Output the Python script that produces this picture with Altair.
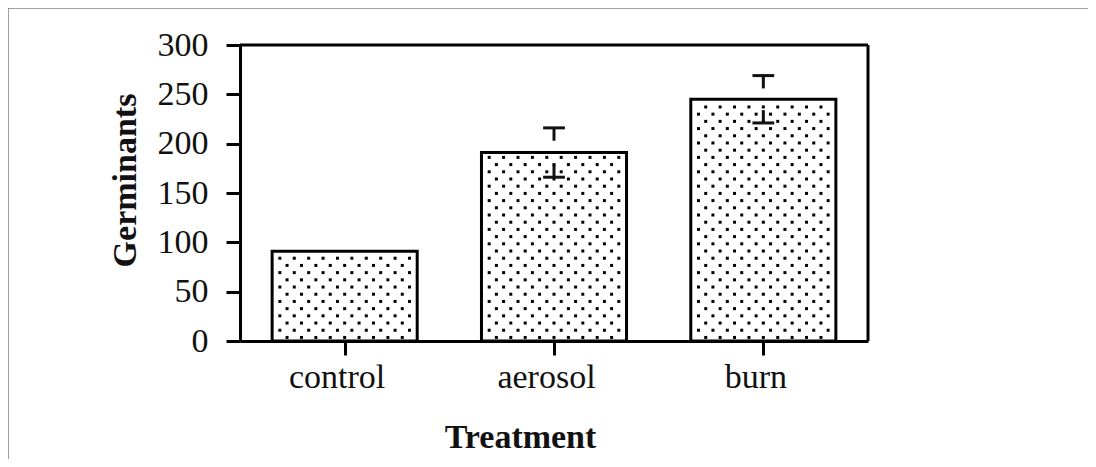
import altair as alt
import pandas as pd

treatments = ["control", "aerosol", "burn"]
germinants = [91, 191, 245]
std_err = [0, 25, 24]

FONT = "Liberation Serif"
FS = 34

df = pd.DataFrame({
    "treatment": treatments,
    "idx": list(range(len(treatments))),
    "value": germinants,
    "se": std_err,
})

W, H = 628, 296
HALF = 0.3465       # half bar width in x units
STUB = 13           # error-bar stem length in y units
CAP = 0.052         # half cap width in x units

xscale = alt.Scale(domain=[-0.5, 2.5], nice=False, zero=False)
yscale = alt.Scale(domain=[0, 300], nice=False)

label_expr = "[" + ",".join("'" + t + "'" for t in treatments) + "][datum.value]"

x_axis = alt.Axis(
    values=list(range(len(treatments))), labelExpr=label_expr, title="Treatment",
    grid=False, domainColor="black", domainWidth=3, tickColor="black", tickWidth=3,
    tickSize=14, labelFont=FONT, labelFontSize=FS, labelColor="#111", labelPadding=5,
    labelOffset=-8, titleFont=FONT, titleFontSize=FS, titleFontWeight="bold", titleColor="#111",
    titleX=280, titleY=106, titleBaseline="alphabetic", titleAlign="center",
)
y_axis = alt.Axis(
    values=[0, 50, 100, 150, 200, 250, 300], title="Germinants", grid=False,
    domainColor="black", domainWidth=3, tickColor="black", tickWidth=3, tickSize=14,
    labelFont=FONT, labelFontSize=FS, labelColor="#111", labelPadding=18,
    titleFont=FONT, titleFontSize=FS, titleFontWeight="bold", titleColor="#111",
    titleAngle=-90, titleX=-105, titleY=135, titleBaseline="alphabetic", titleAlign="center",
)

base = alt.Chart(df)

bars = base.transform_calculate(
    lo=f"datum.idx - {HALF}", hi=f"datum.idx + {HALF}", zero="0"
).mark_rect(fill="white", stroke="black", strokeWidth=3).encode(
    x=alt.X("lo:Q", scale=xscale, axis=x_axis),
    x2="hi:Q",
    y=alt.Y("value:Q", scale=yscale, axis=y_axis),
    y2="zero:Q",
)

dots = base.transform_calculate(
    ys="sequence(3.6, datum.value - 2.5, 7.3)"
).transform_flatten(["ys"]).transform_calculate(
    ri="round((datum.ys - 3.6) / 7.3)", ks="sequence(-9, 10, 1)"
).transform_flatten(["ks"]).transform_filter(
    "(datum.ri + datum.ks) % 2 == 0"
).transform_calculate(
    xs="datum.idx + datum.ks * 0.0344"
).mark_square(size=9, color="black", opacity=1).encode(
    x=alt.X("xs:Q", scale=xscale),
    y=alt.Y("ys:Q", scale=yscale),
)

eb = base.transform_filter("datum.se > 0").transform_calculate(
    up="datum.value + datum.se", dn="datum.value - datum.se",
    up2=f"datum.value + datum.se - {STUB}", dn2=f"datum.value - datum.se + {STUB}",
    cl=f"datum.idx - {CAP}", cr=f"datum.idx + {CAP}",
)
cap_up = eb.mark_rule(color="#111", strokeWidth=3).encode(
    x=alt.X("cl:Q", scale=xscale), x2="cr:Q", y=alt.Y("up:Q", scale=yscale))
cap_dn = eb.mark_rule(color="#111", strokeWidth=3).encode(
    x=alt.X("cl:Q", scale=xscale), x2="cr:Q", y=alt.Y("dn:Q", scale=yscale))
stem_up = eb.mark_rule(color="#111", strokeWidth=3).encode(
    x=alt.X("idx:Q", scale=xscale), y=alt.Y("up:Q", scale=yscale), y2="up2:Q")
stem_dn = eb.mark_rule(color="#111", strokeWidth=3).encode(
    x=alt.X("idx:Q", scale=xscale), y=alt.Y("dn:Q", scale=yscale), y2="dn2:Q")

one = pd.DataFrame({"a": [0]})
# plot frame: top and right edges
frame_top = alt.Chart(one).mark_rule(color="black", strokeWidth=3).encode(
    x=alt.value(0), x2=alt.value(W), y=alt.value(0))
frame_right = alt.Chart(one).mark_rule(color="black", strokeWidth=3).encode(
    x=alt.value(W), y=alt.value(0), y2=alt.value(H))

# outer picture border (top and left only)
border_top = alt.Chart(one).mark_rule(color="#808080", strokeWidth=1.5).encode(
    x=alt.value(-232), x2=alt.value(860), y=alt.value(-37))
border_left = alt.Chart(one).mark_rule(color="#808080", strokeWidth=1.5).encode(
    x=alt.value(-232), y=alt.value(-37), y2=alt.value(430))

chart = alt.layer(
    border_top, border_left, bars, dots, cap_up, cap_dn, stem_up, stem_dn,
    frame_top, frame_right
).properties(
    width=W, height=H,
    autosize=alt.AutoSizeParams(type="none"),
    padding={"left": 232, "top": 37, "right": 220, "bottom": 118},
).configure_view(
    stroke=None
).configure(background="transparent")

chart.save("out.html", embed_options={"renderer": "svg", "actions": False})
